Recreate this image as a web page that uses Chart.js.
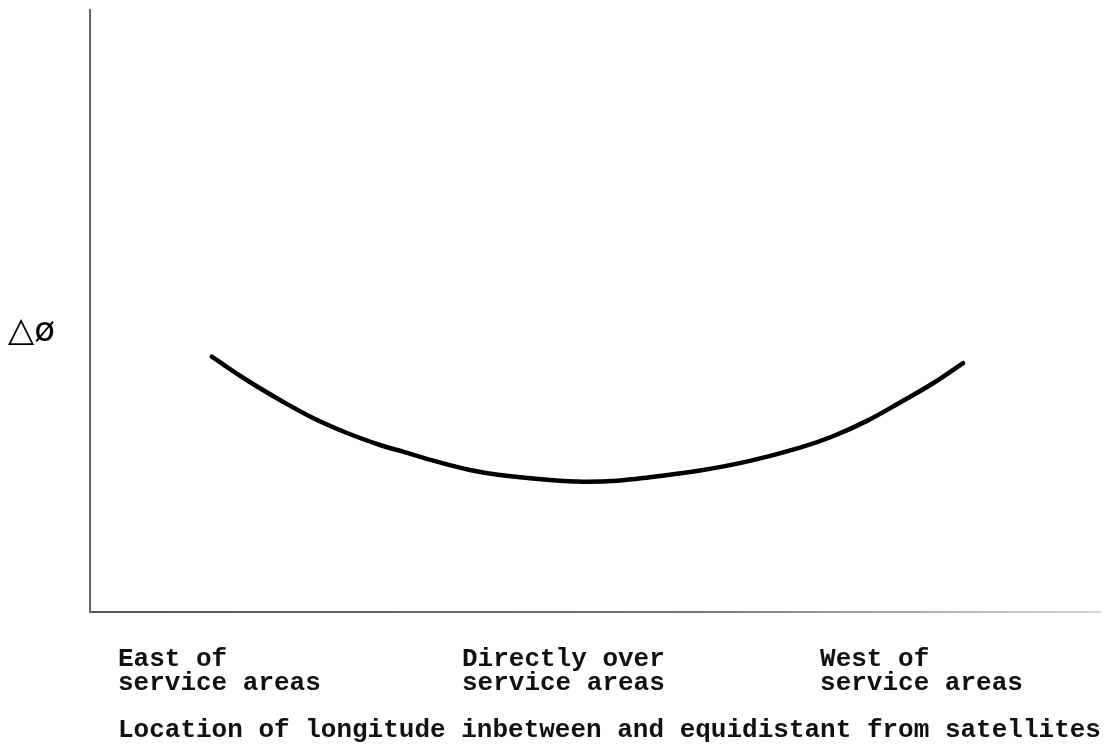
<!DOCTYPE html>
<html lang="en">
<head>
<meta charset="UTF-8">
<title>Phase difference vs longitude</title>
<style>
    body { margin: 0; background: #fff; }
    #wrap { width: 1107px; height: 755px; }
</style>
</head>
<body>
<div id="wrap"><canvas id="chart" width="1107" height="755"></canvas></div>

<script src="https://cdn.jsdelivr.net/npm/chart.js"></script>
<script>
    // curve (x: 0..100 across the axis, y: 0..100 up the axis)
    const curveX = [12.05, 15.51, 18.81, 22.08, 25.45, 28.71, 30.99, 34.36, 37.62, 40.59, 45.54, 48.81,
                    52.18, 55.45, 60.40, 65.35, 70.30, 73.56, 76.93, 80.20, 83.47, 86.44];
    const curveY = [42.41, 38.54, 35.22, 32.23, 29.73, 27.74, 26.63, 24.97, 23.59, 22.75, 21.93, 21.64,
                    21.81, 22.40, 23.50, 25.10, 27.30, 29.20, 31.75, 34.80, 38.00, 41.36];

    const tickPositions = [2.77, 36.83, 72.28];
    const tickLabels = [
        ['East of', 'service areas'],
        ['Directly over', 'service areas'],
        ['West of', 'service areas']
    ];
    const yLabelValue = 46.5;
    const yLabel = '△ø';
    const xTitle = 'Location of longitude inbetween and equidistant from satellites';

    const typeFont = { family: '"Liberation Mono", "Courier New", monospace', size: 26, weight: 'bold', lineHeight: 0.9 };

    const canvas = document.getElementById('chart');
    // x axis fades out to the right like the scanned original
    const fade = canvas.getContext('2d').createLinearGradient(90, 0, 1100, 0);
    fade.addColorStop(0, '#555');
    fade.addColorStop(0.6, '#777');
    fade.addColorStop(1, '#d8d8d8');

    const titlePlugin = {
        id: 'xTitle',
        afterDraw(chart) {
            const ctx = chart.ctx;
            const x = chart.scales.x.getPixelForValue(tickPositions[0]);
            ctx.save();
            ctx.font = 'bold 26px "Liberation Mono", "Courier New", monospace';
            ctx.fillStyle = '#111';
            ctx.textAlign = 'left';
            ctx.textBaseline = 'alphabetic';
            ctx.fillText(xTitle, x, 737);
            ctx.restore();
        }
    };

    new Chart(canvas, {
        type: 'line',
        data: {
            datasets: [{
                data: curveX.map((x, i) => ({ x: x, y: curveY[i] })),
                borderColor: '#000',
                borderWidth: 4.5,
                borderCapStyle: 'round',
                tension: 0.4,
                pointRadius: 0,
                fill: false
            }]
        },
        options: {
            responsive: false,
            animation: false,
            layout: { padding: { top: 10, right: 7, left: 0, bottom: 0 } },
            plugins: { legend: { display: false }, tooltip: { enabled: false } },
            scales: {
                x: {
                    type: 'linear', min: 0, max: 100,
                    grid: { display: false, drawTicks: false },
                    border: { display: true, color: fade, width: 2, dash: [2, 1] },
                    afterBuildTicks: s => { s.ticks = tickPositions.map(v => ({ value: v })); },
                    afterFit: s => { s.height = 143; s.paddingLeft = 0; s.paddingRight = 0; },
                    ticks: {
                        autoSkip: false, maxRotation: 0, align: 'start', padding: 36,
                        color: '#111', font: typeFont,
                        callback: (v, i) => tickLabels[i]
                    }
                },
                y: {
                    type: 'linear', min: 0, max: 100,
                    grid: { display: false, drawTicks: false },
                    border: { display: true, color: '#666', width: 2, dash: [2, 1] },
                    afterBuildTicks: s => { s.ticks = [{ value: yLabelValue }]; },
                    afterFit: s => { s.width = 90; s.paddingTop = 0; s.paddingBottom = 0; },
                    ticks: {
                        padding: 35, color: '#000',
                        font: { family: '"DejaVu Sans", sans-serif', size: 34 },
                        callback: () => yLabel
                    }
                }
            }
        },
        plugins: [titlePlugin]
    });
</script>
</body>
</html>
